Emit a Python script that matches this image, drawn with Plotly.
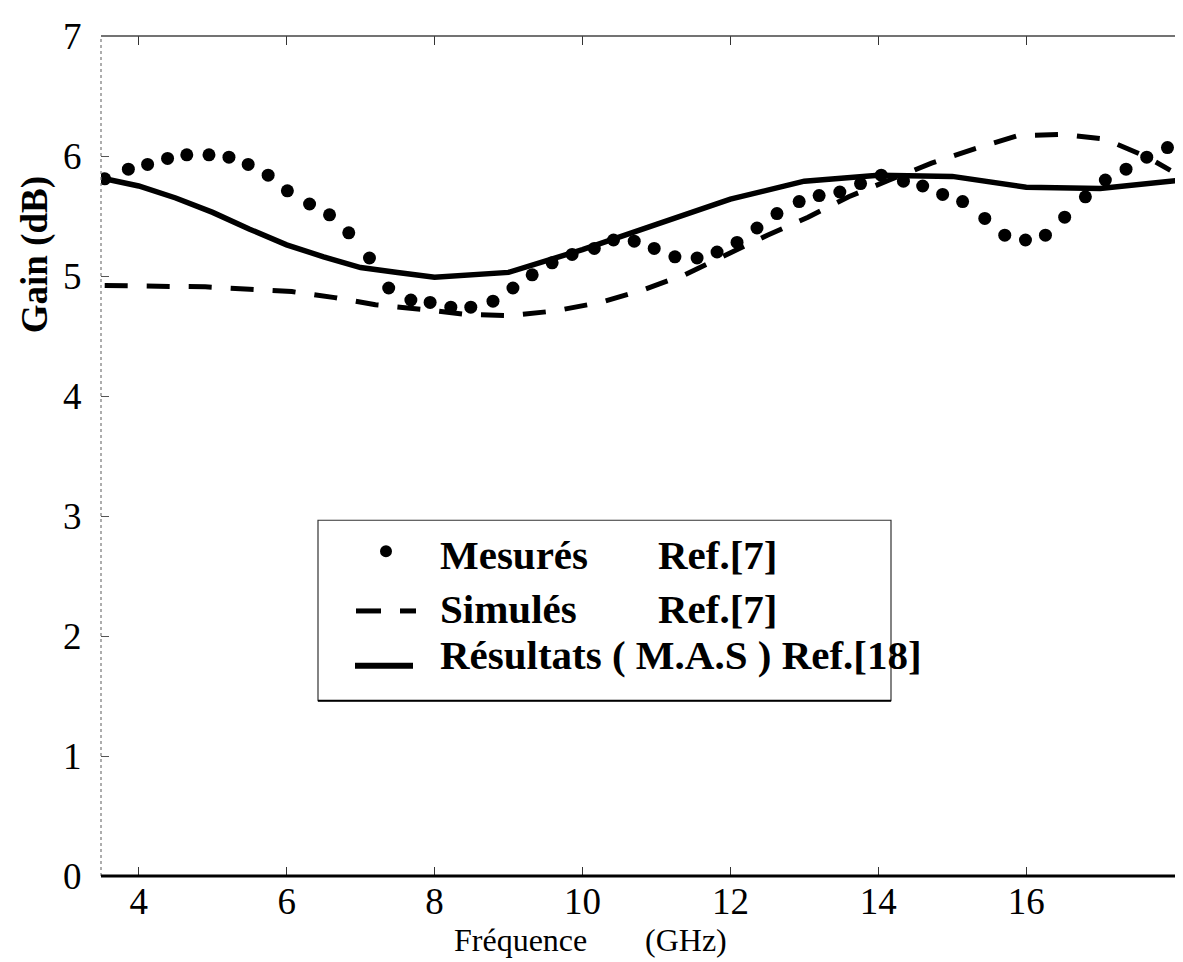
import plotly.graph_objects as go

# ---------------- data ----------------
freq_mesures = [3.54, 3.86, 4.12, 4.39, 4.65, 4.95, 5.22, 5.48, 5.75, 6.01,
                6.31, 6.58, 6.84, 7.12, 7.38, 7.68, 7.94, 8.22, 8.49, 8.79,
                9.06, 9.32, 9.59, 9.86, 10.16, 10.42, 10.70, 10.97, 11.25, 11.55,
                11.82, 12.09, 12.36, 12.63, 12.93, 13.20, 13.48, 13.76, 14.04, 14.34,
                14.60, 14.87, 15.14, 15.44, 15.71, 15.99, 16.26, 16.52, 16.80, 17.07,
                17.35, 17.63, 17.91]
gain_mesures = [5.81, 5.89, 5.93, 5.98, 6.01, 6.01, 5.99, 5.93, 5.84, 5.71,
                5.60, 5.51, 5.36, 5.15, 4.90, 4.80, 4.78, 4.74, 4.74, 4.79,
                4.90, 5.01, 5.11, 5.18, 5.23, 5.30, 5.29, 5.23, 5.16, 5.15,
                5.20, 5.28, 5.40, 5.52, 5.62, 5.67, 5.70, 5.77, 5.84, 5.79,
                5.75, 5.68, 5.62, 5.48, 5.34, 5.30, 5.34, 5.49, 5.66, 5.80,
                5.89, 5.99, 6.07]

freq_simules = [3.54, 4.30, 4.90, 5.50, 6.07, 6.65, 7.20, 7.87, 8.42, 9.03,
                9.64, 10.24, 10.80, 11.38, 11.92, 12.50, 13.05, 13.60, 14.15, 14.72,
                15.30, 15.89, 16.49, 17.07, 17.64, 17.95]
gain_simules = [4.92, 4.92, 4.91, 4.89, 4.87, 4.82, 4.76, 4.72, 4.68, 4.67,
                4.71, 4.78, 4.88, 5.01, 5.17, 5.34, 5.49, 5.66, 5.80, 5.94,
                6.06, 6.17, 6.18, 6.14, 5.99, 5.88]

freq_mas = [3.54, 4.0, 4.5, 5.0, 5.5, 6.0, 6.5, 7.0, 7.5, 8.0,
            9.0, 10.0, 11.0, 12.0, 13.0, 14.0, 15.0, 16.0, 17.0, 18.1]
gain_mas = [5.81, 5.75, 5.65, 5.53, 5.39, 5.26, 5.16, 5.07, 5.03, 4.99,
            5.03, 5.22, 5.43, 5.64, 5.79, 5.84, 5.83, 5.74, 5.73, 5.80]

x_ticks = [4, 6, 8, 10, 12, 14, 16]
y_ticks = [0, 1, 2, 3, 4, 5, 6, 7]

legend_names = ["Mesurés", "Simulés", "Résultats ( M.A.S ) Ref.[18]"]
legend_refs = ["Ref.[7]", "Ref.[7]", ""]

# ---------------- layout geometry ----------------
W, H = 1183, 962
PL, PR, PT, PB = 93, 1175, 25, 868   # plot area in pixels


def px(xp):
    return (xp - PL) / (PR - PL)


def py(yp):
    return (PB - yp) / (PB - PT)


SERIF = "Liberation Serif, Times New Roman, serif"

fig = go.Figure()

fig.add_trace(go.Scatter(
    x=freq_simules, y=gain_simules, mode="lines", name="Simulés",
    line=dict(color="black", width=5, dash="23px,19px"), showlegend=False))
fig.add_trace(go.Scatter(
    x=freq_mas, y=gain_mas, mode="lines", name="Résultats (M.A.S)",
    line=dict(color="black", width=5.5), showlegend=False))
fig.add_trace(go.Scatter(
    x=freq_mesures, y=gain_mesures, mode="markers", name="Mesurés",
    marker=dict(color="black", size=13), showlegend=False))

shapes = []
# frame
shapes.append(dict(type="line", xref="paper", yref="paper", x0=0, x1=0, y0=0, y1=1,
                   line=dict(color="#777777", width=1.2, dash="dot")))
shapes.append(dict(type="line", xref="paper", yref="paper", x0=0, x1=1, y0=1, y1=1,
                   line=dict(color="#444444", width=1.3)))
shapes.append(dict(type="line", xref="paper", yref="paper", x0=1, x1=1, y0=0, y1=1,
                   line=dict(color="black", width=2.5)))
shapes.append(dict(type="line", xref="paper", yref="paper", x0=0, x1=1, y0=0, y1=0,
                   line=dict(color="black", width=3)))

# legend box
shapes.append(dict(type="rect", xref="paper", yref="paper",
                   x0=px(310), x1=px(883), y0=py(692), y1=py(511),
                   line=dict(color="#333333", width=1.2), fillcolor="rgba(0,0,0,0)"))
shapes.append(dict(type="line", xref="paper", yref="paper",
                   x0=px(310), x1=px(883), y0=py(692), y1=py(692),
                   line=dict(color="black", width=2)))
# legend samples
shapes.append(dict(type="circle", xref="paper", yref="paper",
                   x0=px(372), x1=px(384), y0=py(548), y1=py(536),
                   line=dict(color="black", width=0), fillcolor="black"))
shapes.append(dict(type="line", xref="paper", yref="paper",
                   x0=px(348), x1=px(373), y0=py(602), y1=py(602),
                   line=dict(color="black", width=5)))
shapes.append(dict(type="line", xref="paper", yref="paper",
                   x0=px(392), x1=px(408), y0=py(602), y1=py(602),
                   line=dict(color="black", width=5)))
shapes.append(dict(type="line", xref="paper", yref="paper",
                   x0=px(347), x1=px(405), y0=py(657), y1=py(657),
                   line=dict(color="black", width=6)))

annotations = []
row_y = [546, 600, 646]
for name, ref, yy in zip(legend_names, legend_refs, row_y):
    annotations.append(dict(text="<b>%s</b>" % name, xref="paper", yref="paper",
                            x=px(430), y=py(yy), xanchor="left", yanchor="middle",
                            showarrow=False, font=dict(family=SERIF, size=41, color="black")))
    if ref:
        annotations.append(dict(text="<b>%s</b>" % ref, xref="paper", yref="paper",
                                x=px(648), y=py(yy), xanchor="left", yanchor="middle",
                                showarrow=False, font=dict(family=SERIF, size=41, color="black")))

# axis titles
annotations.append(dict(text="<b>Gain (dB)</b>", xref="paper", yref="paper",
                        x=px(27), y=py(245), xanchor="center", yanchor="middle",
                        textangle=-90, showarrow=False,
                        font=dict(family=SERIF, size=37, color="black")))
annotations.append(dict(text="Fréquence", xref="paper", yref="paper",
                        x=px(512), y=py(932), xanchor="center", yanchor="middle",
                        showarrow=False, font=dict(family=SERIF, size=32, color="black")))
annotations.append(dict(text="(GHz)", xref="paper", yref="paper",
                        x=px(678), y=py(932), xanchor="center", yanchor="middle",
                        showarrow=False, font=dict(family=SERIF, size=32, color="black")))

fig.update_layout(
    width=W, height=H,
    margin=dict(l=PL, r=W - PR, t=PT, b=H - PB, pad=0),
    paper_bgcolor="white", plot_bgcolor="white",
    shapes=shapes, annotations=annotations,
    xaxis=dict(range=[3.49, 18.12], tickvals=x_ticks, ticktext=[str(v) for v in x_ticks],
               showgrid=False, zeroline=False, showline=False,
               ticks="inside", ticklen=9, tickcolor="#333333", tickwidth=1.2, mirror="ticks",
               tickfont=dict(family=SERIF, size=37, color="black")),
    yaxis=dict(range=[0, 7], tickvals=y_ticks, ticktext=[str(v) + "\u2002" for v in y_ticks],
               showgrid=False, zeroline=False, showline=False,
               ticks="inside", ticklen=8, tickcolor="#555555", tickwidth=1.2,
               tickfont=dict(family=SERIF, size=37, color="black")),
)

fig.write_html("out.html")
